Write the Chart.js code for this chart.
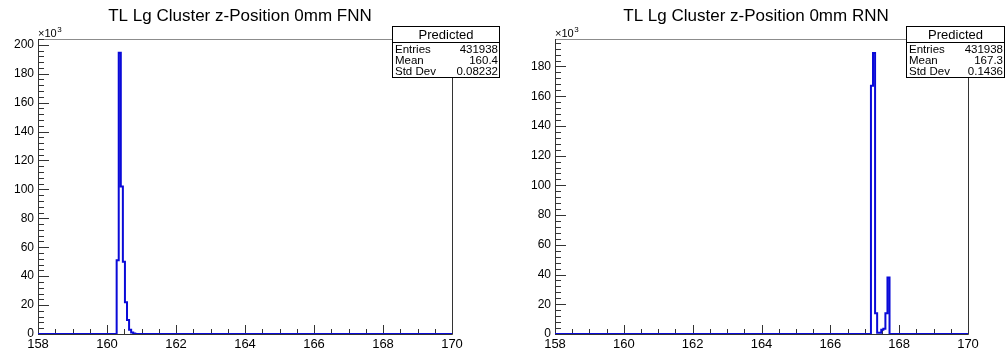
<!DOCTYPE html>
<html>
<head>
<meta charset="utf-8">
<script src="https://cdn.jsdelivr.net/npm/chart.js@4.4.0/dist/chart.umd.min.js"></script>
<style>
    html, body { margin: 0; padding: 0; background: #fff; }
    #wrap { position: relative; width: 1005px; height: 351px; overflow: hidden; background: #fff; }
    canvas { position: absolute; top: 0; }
</style>
</head>
<body>
<div id="wrap">
    <canvas id="fnnChart" width="502" height="351" style="left:0"></canvas>
    <canvas id="rnnChart" width="503" height="351" style="left:502px"></canvas>
</div>
<script>
// Histogram range: 200 bins of 0.06 between 158 and 170
const xMin = 158;
const xMax = 170;
const binWidth = 0.06;
const xTicks = [158, 160, 162, 164, 166, 168, 170];

// FNN: lower bin edges and entries of the non-empty bins
const fnnBinLow = [160.28, 160.34, 160.40, 160.46, 160.52, 160.58, 160.64, 160.70, 160.76];
const fnnCounts = [51000, 194500, 102000, 50000, 22000, 9700, 3000, 1000, 300];
const fnnYTicks = [0, 20, 40, 60, 80, 100, 120, 140, 160, 180, 200];
const fnnStats = ['431938', '160.4', '0.08232'];

// RNN
const rnnBinLow = [167.18, 167.24, 167.30, 167.36, 167.42, 167.48, 167.54, 167.60, 167.66];
const rnnCounts = [167000, 189000, 14000, 900, 900, 2900, 3600, 14000, 38000];
const rnnYTicks = [0, 20, 40, 60, 80, 100, 120, 140, 160, 180];
const rnnStats = ['431938', '167.3', '0.1436'];

const statLabels = ['Entries', 'Mean', 'Std Dev'];
const FONT = "'Liberation Sans', Arial, Helvetica, sans-serif";

function histPoints(lows, counts) {
    const pts = [{ x: xMin, y: 0 }];
    lows.forEach((lo, i) => pts.push({ x: lo, y: counts[i] }));
    pts.push({ x: lows[lows.length - 1] + binWidth, y: 0 });
    pts.push({ x: xMax, y: 0 });
    return pts;
}

// ROOT-like frame, inward ticks, title, x10^3 and stats box
const rootStyle = {
    id: 'rootStyle',
    beforeDatasetsDraw(chart) {
        const ctx = chart.ctx;
        const ca = chart.chartArea;
        ctx.save();
        ctx.lineWidth = 1;
        ctx.strokeStyle = '#8c8c8c';
        ctx.beginPath();
        ctx.moveTo(ca.left, ca.top + 0.5);
        ctx.lineTo(ca.right, ca.top + 0.5);
        ctx.stroke();
        ctx.strokeStyle = '#333';
        ctx.beginPath();
        ctx.moveTo(ca.left + 0.5, ca.top);
        ctx.lineTo(ca.left + 0.5, ca.bottom + 0.5);
        ctx.lineTo(ca.right + 0.5, ca.bottom + 0.5);
        ctx.lineTo(ca.right + 0.5, ca.top);
        ctx.stroke();

        // inward ticks
        const xs = chart.scales.x, ys = chart.scales.y;
        ctx.beginPath();
        for (let v = xMin; v <= xMax + 1e-9; v += 0.5) {
            const px = Math.round(xs.getPixelForValue(v)) + 0.5;
            const len = (Math.abs(v % 2) < 1e-9) ? 9 : 5;
            ctx.moveTo(px, ca.bottom);
            ctx.lineTo(px, ca.bottom - len);
        }
        for (let v = 0; v <= ys.max; v += 4000) {
            const py = Math.round(ys.getPixelForValue(v)) + 0.5;
            const len = (v % 20000 === 0) ? 11 : 6;
            ctx.moveTo(ca.left, py);
            ctx.lineTo(ca.left + len, py);
        }
        ctx.stroke();
        ctx.restore();
    },
    afterDraw(chart, args, opts) {
        const ctx = chart.ctx;
        const ca = chart.chartArea;
        ctx.save();
        ctx.fillStyle = '#000';
        ctx.textBaseline = 'alphabetic';

        ctx.font = '17px ' + FONT;
        ctx.textAlign = 'center';
        ctx.fillText(opts.title, opts.titleX, 21);

        ctx.textAlign = 'left';
        ctx.font = '11px ' + FONT;
        ctx.fillText('\u00d710', ca.left, 37);
        const w = ctx.measureText('\u00d710').width;
        ctx.font = '8px ' + FONT;
        ctx.fillText('3', ca.left + w + 0.5, 32);

        // stats box
        const b = opts.box;
        ctx.fillStyle = '#fff';
        ctx.fillRect(b.x, b.y, b.w, b.h);
        ctx.strokeStyle = '#000';
        ctx.lineWidth = 1;
        ctx.strokeRect(b.x + 0.5, b.y + 0.5, b.w - 1, b.h - 1);
        ctx.beginPath();
        ctx.moveTo(b.x, b.y + 16.5);
        ctx.lineTo(b.x + b.w, b.y + 16.5);
        ctx.stroke();
        ctx.fillStyle = '#000';
        ctx.textAlign = 'center';
        ctx.textBaseline = 'middle';
        ctx.font = '13px ' + FONT;
        ctx.fillText('Predicted', b.x + b.w / 2, b.y + 9);
        ctx.font = '11.5px ' + FONT;
        opts.stats.forEach((val, i) => {
            const y = b.y + 23.5 + i * 11;
            ctx.textAlign = 'left';
            ctx.fillText(statLabels[i], b.x + 3, y);
            ctx.textAlign = 'right';
            ctx.fillText(val, b.x + b.w - 2, y);
        });
        ctx.restore();
    }
};

function makeChart(id, lows, counts, yMax, yTicks, axisWidth, padRight, title, titleX, stats, box) {
    const ctx = document.getElementById(id);
    return new Chart(ctx, {
        type: 'line',
        data: {
            datasets: [{
                data: histPoints(lows, counts),
                stepped: 'before',
                borderColor: '#0a0ad8',
                borderWidth: 2,
                pointRadius: 0,
                fill: false
            }]
        },
        options: {
            responsive: false,
            animation: false,
            devicePixelRatio: 1,
            layout: { padding: { top: 39, right: padRight, left: 0, bottom: 0 } },
            plugins: {
                legend: { display: false },
                title: { display: false },
                tooltip: { enabled: false },
                rootStyle: { title: title, titleX: titleX, stats: stats, box: box }
            },
            scales: {
                x: {
                    type: 'linear',
                    min: xMin,
                    max: xMax,
                    afterBuildTicks: s => { s.ticks = xTicks.map(v => ({ value: v })); },
                    afterFit: s => { s.height = 17; },
                    grid: { display: false, drawTicks: false },
                    border: { display: false },
                    ticks: {
                        padding: 3,
                        color: '#000',
                        maxRotation: 0,
                        autoSkip: false,
                        font: { family: FONT, size: 13 },
                        callback: v => String(v)
                    }
                },
                y: {
                    type: 'linear',
                    min: 0,
                    max: yMax,
                    afterBuildTicks: s => { s.ticks = yTicks.map(v => ({ value: v * 1000 })); },
                    afterFit: s => { s.width = axisWidth; },
                    grid: { display: false, drawTicks: false },
                    border: { display: false },
                    ticks: {
                        padding: 4,
                        color: '#000',
                        autoSkip: false,
                        font: { family: FONT, size: 12 },
                        callback: v => String(v / 1000)
                    }
                }
            }
        },
        plugins: [rootStyle]
    });
}

makeChart('fnnChart', fnnBinLow, fnnCounts, 204000, fnnYTicks, 38, 50,
    'TL Lg Cluster z-Position 0mm FNN', 240, fnnStats, { x: 392, y: 26, w: 108, h: 52 });
makeChart('rnnChart', rnnBinLow, rnnCounts, 198500, rnnYTicks, 53, 37,
    'TL Lg Cluster z-Position 0mm RNN', 254, rnnStats, { x: 404, y: 26, w: 99, h: 52 });
</script>
</body>
</html>
